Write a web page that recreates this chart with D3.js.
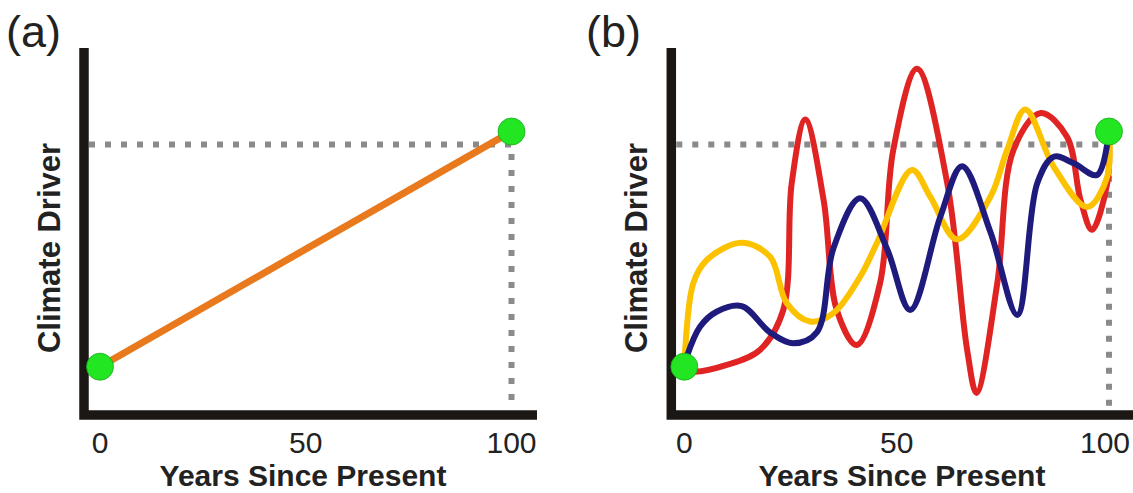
<!DOCTYPE html>
<html>
<head>
<meta charset="utf-8">
<script src="https://cdn.jsdelivr.net/npm/d3@7"></script>
<style>
  body { margin: 0; background: #fff; }
  text { font-family: "Liberation Sans", Arial, sans-serif; fill: #222; }
</style>
</head>
<body>
<div id="chart"></div>
<script>
// tick labels and end points
var tickYears = [0, 50, 100];
var startValue = 13.8;
var endValue = 81;
var refLevel = 77.3;

// panel (a): straight trend
var trendYears = [0, 100];
var trendValues = [startValue, endValue];

// panel (b): three wiggly paths between the same end points
var redYears = [0, 2.1, 10, 17.8, 23.3, 25.3, 28.5, 32.8, 35.9, 40.6, 46.1, 49.2, 54.8, 61.9, 66.6, 68.8, 73.7, 77.5, 83.9, 90.1, 93.3, 96.0, 99.6, 100];
var redValues = [13.2, 12.4, 14.3, 18.6, 30.0, 66.3, 84.4, 61.4, 30.0, 20.0, 37.7, 75.7, 98.9, 66.3, 18.6, 6.3, 37.7, 75.7, 86.3, 79.5, 61.4, 52.9, 66.3, 79];

var yellowYears = [0, 2.1, 5.3, 13.5, 20.2, 24.1, 29.6, 35.1, 41.4, 45.3, 53.6, 57.9, 64.2, 72.1, 76.0, 80.3, 87.0, 94.9, 99.6, 100];
var yellowValues = [13.8, 37.6, 44.3, 49.2, 45.2, 32.0, 26.7, 29.1, 39.5, 49.0, 70.0, 62.4, 50.2, 62.4, 75.7, 87.3, 70.9, 59.4, 68.1, 81];

var blueYears = [0, 0.6, 3.7, 7.6, 13.5, 20.2, 25.7, 31.2, 35.1, 41.4, 47.7, 53.2, 60.3, 65.4, 72.1, 78.4, 83.1, 87.0, 91.7, 97.2, 100];
var blueValues = [13.8, 16.7, 25.2, 29.5, 31.1, 23.6, 20.5, 23.6, 47.6, 61.9, 47.6, 30.0, 56.7, 71.1, 52.2, 28.6, 66.2, 73.8, 71.9, 68.6, 81];

var w = 1133, h = 493;
var axisY = 415;

var svg = d3.select("#chart").append("svg")
    .attr("width", w)
    .attr("height", h);

var y = d3.scaleLinear().domain([0, 100]).range([axisY, 65]);

function zip(xs, ys) {
    return xs.map(function (d, i) { return [d, ys[i]]; });
}

function panel(opts) {
    var x = d3.scaleLinear().domain([0, 100]).range(opts.range);
    var g = svg.append("g");
    var axisX = x(0) - opts.axisGap;

    // panel letter
    g.append("text")
        .attr("x", opts.labelX)
        .attr("y", 47)
        .attr("font-size", 45)
        .text(opts.label);

    // dotted guide lines
    g.append("path")
        .attr("d", "M" + (axisX + 5) + "," + y(refLevel) + "H" + x(100) + "V" + (axisY - 5))
        .attr("fill", "none")
        .attr("stroke", "#8a8a8a")
        .attr("stroke-width", 6)
        .attr("stroke-dasharray", "6,10");

    // curves
    var line = d3.line()
        .x(function (d) { return x(d[0]); })
        .y(function (d) { return y(d[1]); })
        .curve(opts.curve);

    opts.series.forEach(function (s) {
        g.append("path")
            .attr("d", line(s.data))
            .attr("fill", "none")
            .attr("stroke", s.color)
            .attr("stroke-width", s.width)
            .attr("stroke-linecap", "round");
    });

    // axes as an L
    g.append("path")
        .attr("d", "M" + axisX + ",48V" + axisY + "H" + opts.axisEnd)
        .attr("fill", "none")
        .attr("stroke", "#1b1714")
        .attr("stroke-width", 9.5);

    // end points
    g.selectAll("circle.pt")
        .data([[0, startValue], [100, endValue]])
        .enter()
        .append("circle")
        .attr("class", "pt")
        .attr("cx", function (d) { return x(d[0]); })
        .attr("cy", function (d) { return y(d[1]); })
        .attr("r", 13.5)
        .attr("fill", "#22e622")
        .attr("stroke", "#1aa81a")
        .attr("stroke-width", 0.8);

    // tick labels (kept inside the page on the right)
    g.selectAll("text.tick")
        .data(tickYears)
        .enter()
        .append("text")
        .attr("class", "tick")
        .attr("x", function (d) { return Math.min(x(d), w - 28); })
        .attr("y", 453)
        .attr("text-anchor", "middle")
        .attr("font-size", 30)
        .text(function (d) { return d; });

    g.append("text")
        .attr("x", opts.titleX)
        .attr("y", 486)
        .attr("text-anchor", "middle")
        .attr("font-size", 30)
        .attr("font-weight", "bold")
        .text("Years Since Present");

    g.append("text")
        .attr("transform", "translate(" + (axisX - 24) + ",248) rotate(-90)")
        .attr("text-anchor", "middle")
        .attr("font-size", 31)
        .attr("font-weight", "bold")
        .text("Climate Driver");
}

panel({
    label: "(a)",
    labelX: 6,
    range: [100, 511.5],
    axisGap: 16,
    axisEnd: 537,
    titleX: 303,
    curve: d3.curveLinear,
    series: [{ data: zip(trendYears, trendValues), color: "#e8791c", width: 7 }]
});

panel({
    label: "(b)",
    labelX: 586,
    range: [684.3, 1109],
    axisGap: 13,
    axisEnd: 1133,
    titleX: 902,
    curve: d3.curveCatmullRom.alpha(0.5),
    series: [
        { data: zip(redYears, redValues), color: "#e02424", width: 6 },
        { data: zip(yellowYears, yellowValues), color: "#fcc200", width: 6 },
        { data: zip(blueYears, blueValues), color: "#1f1b7d", width: 6 }
    ]
});
</script>
</body>
</html>
